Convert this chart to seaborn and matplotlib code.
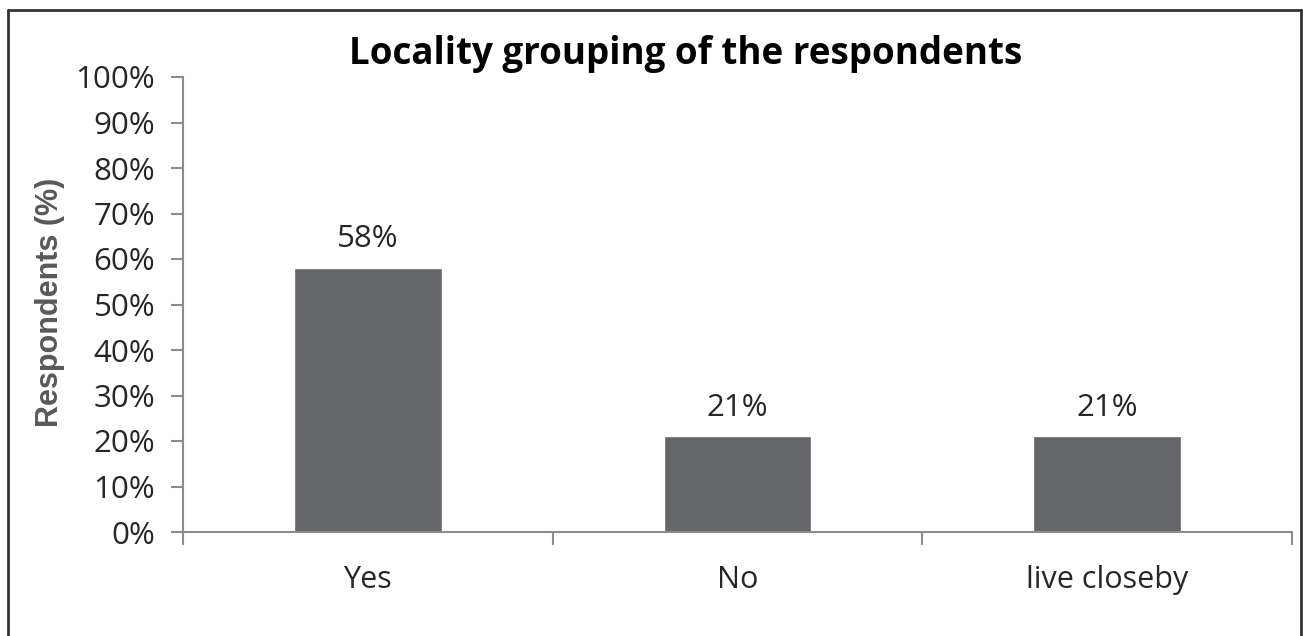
import numpy as np
import pandas as pd
import matplotlib
matplotlib.use("Agg")
import matplotlib.pyplot as plt
import seaborn as sns
from matplotlib.lines import Line2D

# chart data
categories = ["Yes", "No", "live closeby"]
respondents_pct = [58, 21, 21]
y_ticks = list(range(0, 101, 10))
y_tick_labels = [f"{t}%" for t in y_ticks]
title = "Locality grouping of the respondents"
y_label = "Respondents (%)"

BAR_COLOR = "#646669"
AXIS_COLOR = "#8c8c8c"
TEXT_COLOR = "#262626"

sns.set_theme(style="white")
plt.rcParams["font.family"] = ["Open Sans", "DejaVu Sans"]

df = pd.DataFrame({"category": categories, "pct": respondents_pct})

fig = plt.figure(figsize=(13.03, 6.36), dpi=100)
ax = fig.add_axes([183 / 1303, 1 - 532 / 636, (1292 - 183) / 1303, (532 - 77) / 636])

sns.barplot(data=df, x="category", y="pct", color=BAR_COLOR, saturation=1,
            width=0.4, ax=ax)

ax.set_xlim(-0.5, len(categories) - 0.5)
ax.set_ylim(0, 100)

# y axis
ax.set_yticks(y_ticks)
ax.set_yticklabels(y_tick_labels, fontsize=22.5, color=TEXT_COLOR)
ax.tick_params(axis="y", direction="out", length=9, width=1.5, color=AXIS_COLOR,
               pad=11, left=True)

# x axis: separators as major ticks, names as minor ticks
ax.set_xticks(np.arange(len(categories) + 1) - 0.5)
ax.set_xticklabels([])
ax.set_xticks(np.arange(len(categories)), minor=True)
ax.set_xticklabels(categories, minor=True, fontsize=22, color=TEXT_COLOR)
ax.tick_params(axis="x", which="major", direction="out", length=9, width=1.5,
               color=AXIS_COLOR, bottom=True)
ax.tick_params(axis="x", which="minor", length=0, pad=24, bottom=True)
ax.set_xlabel("")

for side in ["top", "right"]:
    ax.spines[side].set_visible(False)
for side in ["left", "bottom"]:
    ax.spines[side].set_color(AXIS_COLOR)
    ax.spines[side].set_linewidth(1.5)

ax.set_ylabel(y_label, fontsize=22, fontweight="bold", color="#595959",
              family=["Liberation Sans", "DejaVu Sans"])
ax.yaxis.set_label_coords(-0.106, 0.505)

# value labels
for cont in ax.containers:
    ax.bar_label(cont, labels=[f"{v:g}%" for v in respondents_pct], padding=10,
                 fontsize=22.5, color=TEXT_COLOR)

fig.text(686 / 1303, 1 - 54 / 636, title, ha="center", va="center",
         fontsize=26.5, fontweight="bold", color="black")

# outer frame
frame_kw = dict(color="#333333", linewidth=2, transform=fig.transFigure)
x0, x1, ytop = 8 / 1303, 1301 / 1303, 1 - 10 / 636
fig.add_artist(Line2D([x0, x0], [0, ytop], **frame_kw))
fig.add_artist(Line2D([x0, x1], [ytop, ytop], **frame_kw))
fig.add_artist(Line2D([x1, x1], [0, ytop], **frame_kw))

fig.savefig("out.png", dpi=100, facecolor="white")
